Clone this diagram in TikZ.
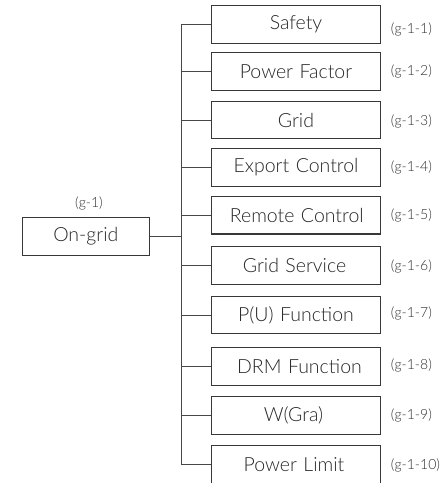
\documentclass[tikz,border=0pt]{standalone}
\usepackage{fontspec}
\setmainfont{Lato}[UprightFont=* Light]
\begin{document}
\begin{tikzpicture}[x=1pt,y=-1pt,
  menubox/.style={draw=black!78,line width=1.1pt,minimum width=168.6pt,minimum height=37.6pt,inner sep=0pt,text=black!85,font=\fontsize{19.5}{23}\selectfont},
  tag/.style={text=black!82,font=\fontsize{14}{16}\selectfont,inner sep=0pt},
  wire/.style={draw=black!72,line width=0.9pt}]
\useasboundingbox (0,0) rectangle (447,483);
\node[menubox,minimum width=127pt] (on) at (85.8,236.4) {On-grid};
\node[tag] (tg) at (89,203.3) {(g-1)};
\foreach \n/\y/\t/\dx in {1/24.5/Safety/0,2/71.5/Power Factor/0,3/120/Grid/0,4/167.3/Export Control/0,5/215.2/Remote Control/1.5,6/265.7/Grid Service/-3,7/315/P(U) Function/0,8/366.5/DRM Function/7,9/415.5/W(Gra)/-5,10/464.5/Power Limit/-4}{
  \node[menubox,text width=168.6pt,align=center] (b\n) at (296,\y) {\hspace*{\dx pt}\t};
}
\foreach \n/\y in {1/29,2/71.7,3/121.7,4/167.3,5/215.7,6/266,7/313.7,8/365.7,9/415.7,10/465.7}{
  \node[tag,anchor=west] (t\n) at (390.7,\y) {(g-1-\n)};
}
\coordinate (sp) at (181,236.4);
\coordinate (top) at (181,24.5);
\coordinate (bot) at (181,464.5);
\draw[wire] (on.east) -- (sp);
\draw[wire] (b1.west) -- (top) -- (bot) -- (b10.west);
\foreach \n in {2,...,9}{
  \draw[wire] (b\n.west) -- (top |- b\n.west);
}
\end{tikzpicture}
\end{document}
